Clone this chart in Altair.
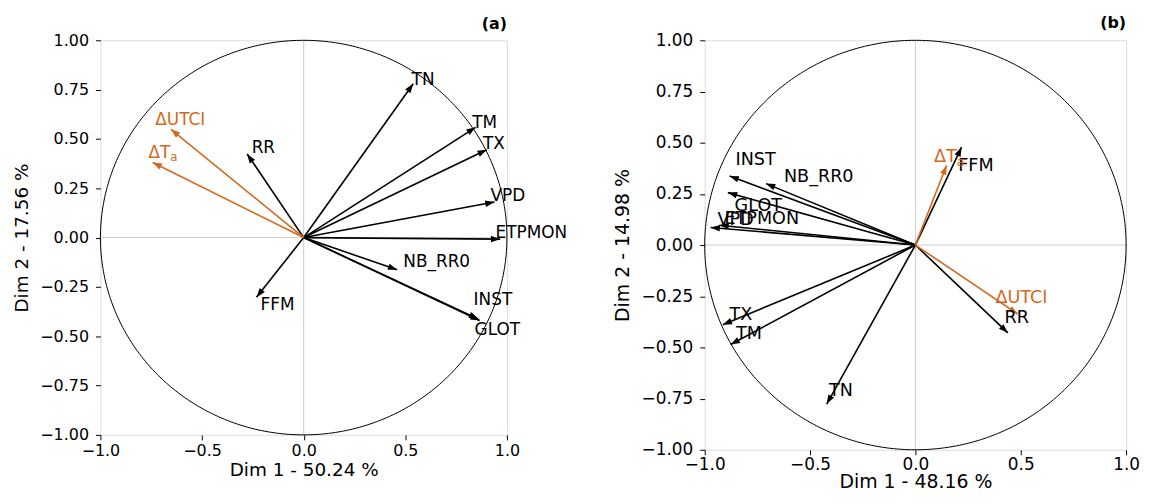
import altair as alt
import pandas as pd

# ---------------- data ----------------
names_a = ["TN", "TM", "TX", "VPD", "ETPMON", "NB_RR0", "INST", "GLOT", "FFM", "RR", "ΔUTCI", "ΔT"]
subs_a = [""] * 11 + ["a"]
dim1_a = [0.539, 0.846, 0.901, 0.939, 0.967, 0.460, 0.858, 0.866, -0.232, -0.278, -0.653, -0.743]
dim2_a = [0.780, 0.559, 0.445, 0.180, -0.008, -0.163, -0.412, -0.420, -0.302, 0.424, 0.549, 0.381]
labx_a = [0.531, 0.829, 0.882, 0.919, 0.944, 0.490, 0.836, 0.841, -0.212, -0.256, -0.730, -0.764]
laby_a = [0.772, 0.554, 0.450, 0.185, 0.000, -0.148, -0.341, -0.495, -0.369, 0.431, 0.570, 0.403]
group_a = ["var"] * 10 + ["delta"] * 2

names_b = ["INST", "NB_RR0", "GLOT", "VPD", "ETPMON", "TX", "TM", "TN", "FFM", "RR", "ΔT", "ΔUTCI"]
subs_b = [""] * 10 + ["a", ""]
dim1_b = [-0.882, -0.709, -0.890, -0.972, -0.930, -0.914, -0.877, -0.421, 0.219, 0.439, 0.148, 0.486]
dim2_b = [0.337, 0.300, 0.256, 0.086, 0.097, -0.389, -0.486, -0.777, 0.478, -0.429, 0.389, -0.337]
labx_b = [-0.854, -0.624, -0.858, -0.939, -0.906, -0.882, -0.851, -0.410, 0.203, 0.423, 0.088, 0.380]
laby_b = [0.390, 0.309, 0.165, 0.100, 0.105, -0.364, -0.457, -0.737, 0.364, -0.381, 0.405, -0.283]
group_b = ["var"] * 10 + ["delta"] * 2

xlabel_a, ylabel_a = "Dim 1 - 50.24 %", "Dim 2 - 17.56 %"
xlabel_b, ylabel_b = "Dim 1 - 48.16 %", "Dim 2 - 14.98 %"
xticks = [-1.0, -0.5, 0.0, 0.5, 1.0]
yticks = [-1.0, -0.75, -0.5, -0.25, 0.0, 0.25, 0.5, 0.75, 1.0]

ORANGE = "#d2691e"
FONT = "DejaVu Sans"
HEAD = "M0,0L0.6,1.7L-0.6,1.7Z"


def panel(names, subs, d1, d2, lx, ly, grp, xlab, ylab, title, w, h, tfs, afs, lfs, xlp, xtp):
    df = pd.DataFrame({"name": names, "sub": subs, "d1": d1, "d2": d2, "lx": lx, "ly": ly, "grp": grp})
    sx, sy = w / 2.0, h / 2.0
    xs = alt.Scale(domain=[-1, 1], nice=False, zero=False)
    ys = alt.Scale(domain=[-1, 1], nice=False, zero=False)
    common = dict(titleFontWeight="normal", grid=False, domain=False, tickColor="black",
                  labelColor="black", titleColor="black", tickSize=5, labelFont=FONT,
                  titleFont=FONT, labelFlush=False, labelFontSize=tfs, titleFontSize=afs)
    xax = alt.Axis(values=xticks, format=".1f", title=xlab, labelPadding=xlp, titlePadding=xtp, **common)
    yax = alt.Axis(values=yticks, format=".2f", title=ylab, labelPadding=7, titlePadding=8.5, **common)
    col = alt.Color("grp:N", scale=alt.Scale(domain=["var", "delta"], range=["black", ORANGE]), legend=None)

    base = alt.Chart(df)
    zero_df = pd.DataFrame({"z": [0.0]})
    vline = alt.Chart(zero_df).mark_rule(color="#cccccc", strokeWidth=1).encode(
        x=alt.X("z:Q", scale=xs, axis=xax))
    hline = alt.Chart(zero_df).mark_rule(color="#cccccc", strokeWidth=1).encode(
        y=alt.Y("z:Q", scale=ys, axis=yax))
    circle = alt.Chart(alt.sequence(0, 361, 1, as_="t")).transform_calculate(
        cx="cos(datum.t*PI/180)", cy="sin(datum.t*PI/180)"
    ).mark_line(color="black", strokeWidth=1).encode(
        x=alt.X("cx:Q", scale=xs, axis=xax), y=alt.Y("cy:Q", scale=ys, axis=yax), order="t:Q")
    shafts = base.transform_calculate(x0="0", y0="0").mark_rule(strokeWidth=1.6).encode(
        x=alt.X("x0:Q", scale=xs, axis=xax), y=alt.Y("y0:Q", scale=ys, axis=yax),
        x2="d1:Q", y2="d2:Q", color=col)
    heads = base.transform_calculate(
        ang=f"(atan2(datum.d1*{sx}, datum.d2*{sy})*180/PI + 360) % 360"
    ).mark_point(shape=HEAD, size=120, filled=True, opacity=1).encode(
        x=alt.X("d1:Q", scale=xs, axis=xax), y=alt.Y("d2:Q", scale=ys, axis=yax),
        angle=alt.Angle("ang:Q", scale=None), color=col)
    labels = base.mark_text(align="left", baseline="alphabetic", font=FONT, fontSize=lfs).encode(
        x=alt.X("lx:Q", scale=xs, axis=xax), y=alt.Y("ly:Q", scale=ys, axis=yax),
        text="name:N", color=col)
    sublabels = base.transform_filter("datum.sub != ''").mark_text(
        align="left", baseline="alphabetic", font=FONT, fontSize=lfs * 0.7,
        dx=lfs * 1.3, dy=lfs * 0.2).encode(
        x=alt.X("lx:Q", scale=xs, axis=xax), y=alt.Y("ly:Q", scale=ys, axis=yax),
        text="sub:N", color=col)

    return alt.layer(vline, hline, circle, shafts, heads, labels, sublabels).properties(
        width=w, height=h,
        title=alt.TitleParams(title, anchor="end", frame="group", fontWeight="bold",
                              fontSize=16, font=FONT, color="black", offset=0),
    )


pa = panel(names_a, subs_a, dim1_a, dim2_a, labx_a, laby_a, group_a, xlabel_a, ylabel_a,
           "(a)", 409, 397, 16, 18.5, 17, 3, 2)
pb = panel(names_b, subs_b, dim1_b, dim2_b, labx_b, laby_b, group_b, xlabel_b, ylabel_b,
           "(b)", 424, 412, 17, 19, 17.7, 2, 0)

chart = alt.hconcat(pa, pb, spacing=199, bounds="flush").properties(
    padding={"left": 3, "top": 5, "right": 0, "bottom": 0}
).configure_view(
    stroke="black", strokeWidth=1
).configure(background="white")

chart.save("out.html", embed_options={"renderer": "svg", "actions": False})
